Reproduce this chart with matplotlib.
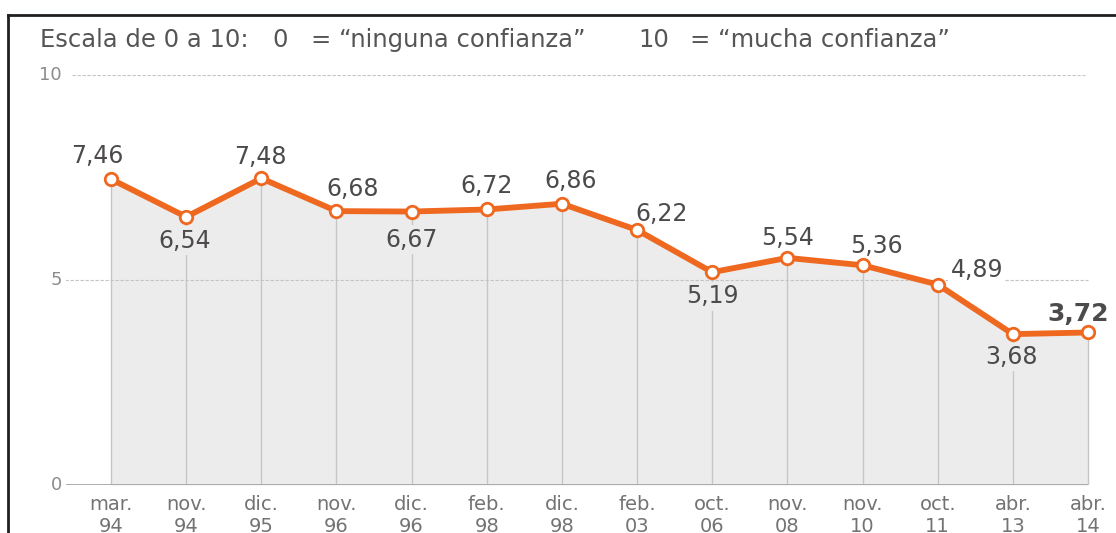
import matplotlib.pyplot as plt
from matplotlib.lines import Line2D

plt.rcParams['font.family'] = ['DejaVu Sans']

# Data
periods = ['mar.\n94', 'nov.\n94', 'dic.\n95', 'nov.\n96', 'dic.\n96', 'feb.\n98', 'dic.\n98',
           'feb.\n03', 'oct.\n06', 'nov.\n08', 'nov.\n10', 'oct.\n11', 'abr.\n13', 'abr.\n14']
values = [7.46, 6.54, 7.48, 6.68, 6.67, 6.72, 6.86, 6.22, 5.19, 5.54, 5.36, 4.89, 3.68, 3.72]
value_labels = ['7,46', '6,54', '7,48', '6,68', '6,67', '6,72', '6,86',
                '6,22', '5,19', '5,54', '5,36', '4,89', '3,68', '3,72']

# header pieces and their left edges (px)
header = [('Escala de 0 a 10:', 40), ('0', 272), ('= \u201cninguna confianza\u201d', 311),
          ('10', 638), ('= \u201cmucha confianza\u201d', 690)]

# label offsets in pixels (dx, dy)
offsets = [(-14, 23), (-1, -24), (-1, 21), (16, 22), (0, -28), (0, 23), (9, 23),
           (24, 16), (0, -24), (0, 20), (14, 19), (39, 15), (-1, -23), (-10, 18)]

orange = '#ef6820'
fill_col = '#ececec'
text_col = '#4d4a4c'

W, H = 1116, 533
fig = plt.figure(figsize=(W / 100, H / 100), dpi=100)

# axes placed so that index 0 -> px 111, index 13 -> px 1088, y 0 -> px 485, y 10 -> px 75
step = (1088 - 111) / 13
ax_left, ax_right = 66, 1095
ax = fig.add_axes([ax_left / W, (H - 485) / H, (ax_right - ax_left) / W, 410 / H])
ax.set_xlim(-(111 - ax_left) / step, 13 + (ax_right - 1088) / step)
ax.set_ylim(0, 10)

x = list(range(len(values)))

ax.fill_between(x, 0, values, color=fill_col, lw=0, zorder=1)
ax.vlines(x, 0, values, color='#c6c6c6', lw=1, zorder=2)

# gridlines
ax.hlines(10, -(111 - 72) / step, 13 - 3 / step, color='#c4c4c4', lw=0.8, ls=(0, (3, 1.5)), zorder=2)
ax.hlines(5, -(111 - 65) / step, 13, color='#c4c4c4', lw=0.8, ls=(0, (3, 1.5)), zorder=2)
ax.hlines(0, -(111 - 65) / step, 13, color='#a0a0a0', lw=1.2, zorder=2)

ax.plot(x, values, color=orange, lw=4.2, marker='o', ms=9, mfc='white', mec=orange,
        mew=2, zorder=5, solid_joinstyle='round')

for i, (v, lab, (dx, dy)) in enumerate(zip(values, value_labels, offsets)):
    last = i == len(values) - 1
    bg = 'white' if dy > 0 else fill_col
    ax.annotate(lab, (i, v), xytext=(dx, dy), textcoords='offset pixels',
                ha='center', va='center', fontsize=18 if last else 17,
                fontweight='bold' if last else 'normal', color=text_col, zorder=4,
                bbox=dict(boxstyle='square,pad=0.1', fc=bg, ec='none'))

for s in ax.spines.values():
    s.set_visible(False)
ax.set_xticks(x)
ax.set_xticklabels(periods, fontsize=14, color='#737373', linespacing=1.25)
ax.set_yticks([0, 5, 10])
ax.set_yticklabels(['0', '5', '10'], fontsize=13, color='#8c8c8c')
ax.tick_params(axis='x', length=0, pad=7)
ax.tick_params(axis='y', length=0, pad=3)
for t in ax.get_yticklabels():
    t.set_va('center')

# header text
for txt, px in header:
    fig.text(px / W, 1 - 40 / H, txt, fontsize=17.5, color='#555555', va='center', ha='left')

# frame
fig.add_artist(Line2D([8 / W, 1], [1 - 15 / H, 1 - 15 / H], color='#231f20', lw=2))
fig.add_artist(Line2D([8 / W, 8 / W], [0, 1 - 15 / H], color='#231f20', lw=2))

fig.savefig('out.png', dpi=100)
